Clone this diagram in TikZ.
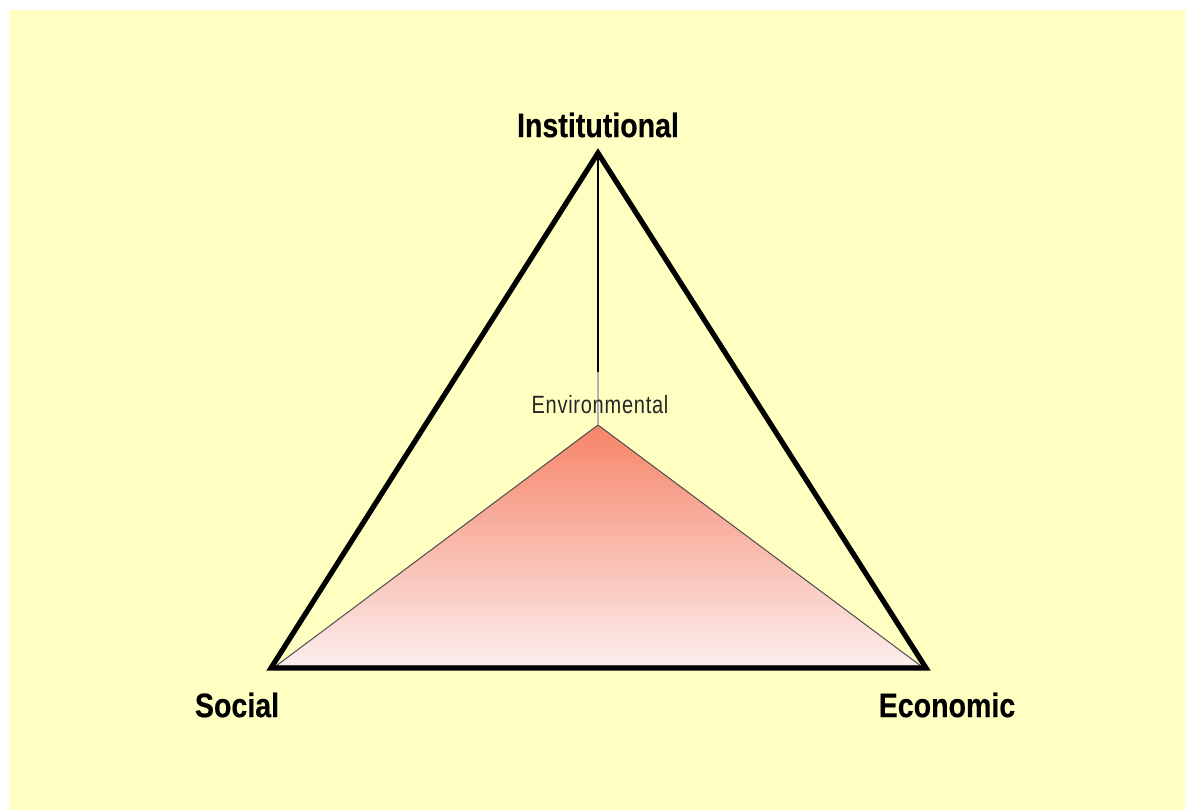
\documentclass[tikz,border=0pt]{standalone}
\usepackage{fontspec}
\setmainfont{Liberation Sans}
\newfontfamily\boldnarrow[FakeStretch=0.84,FakeBold=0.3]{Liberation Sans Bold}
\newfontfamily\thinnarrow[FakeStretch=0.8,LetterSpace=3]{Liberation Sans}
\usetikzlibrary{positioning}

\definecolor{paper}{RGB}{255,255,194}
\definecolor{salmon}{RGB}{246,132,104}
\definecolor{blush}{RGB}{252,238,238}

\tikzset{
	dimension/.style={font=\boldnarrow\fontsize{17}{18}\selectfont, text=black, inner sep=0pt},
	core/.style={font=\thinnarrow\fontsize{12.5}{13}\selectfont, text=black!85, inner sep=0pt}
}

\begin{document}
\begin{tikzpicture}[x=0.5pt,y=-0.5pt]
		\useasboundingbox (0,0) rectangle (1185,810);
		% Pale yellow sheet, white strip on top and left
		\fill[paper] (9,10) rectangle (1185,810);
		% Corners of the prism
		\coordinate (top) at (598,153);
		\coordinate (left) at (271,668);
		\coordinate (right) at (926,668);
		\coordinate (peak) at (598,425);
		\coordinate (envleft) at (276,666);
		\coordinate (envright) at (921,666);
		\coordinate (cut) at (598,372);
		% Environmental dimension is shaded from salmon to white
		\shade[top color=salmon, bottom color=blush, draw=black!70, line width=0.5pt]
		(envleft) -- (peak) -- (envright) -- cycle;
		% Line from the top down to the environmental corner
		\draw[line width=0.6pt] (top) -- (cut);
		\draw[black!30, line width=0.6pt] (cut) -- (peak);
		% Outer triangle
		\draw[line width=2.6pt, line join=miter] (left) -- (top) -- (right) -- cycle;
		% Labels
		\node[dimension] (inst) at (598,125) {Institutional};
		\node[dimension] (soc) at (237,705) {Social};
		\node[dimension] (econ) at (947,705) {Economic};
		\node[core] (env) at (600,405) {Environmental};
	\end{tikzpicture}
\end{document}
